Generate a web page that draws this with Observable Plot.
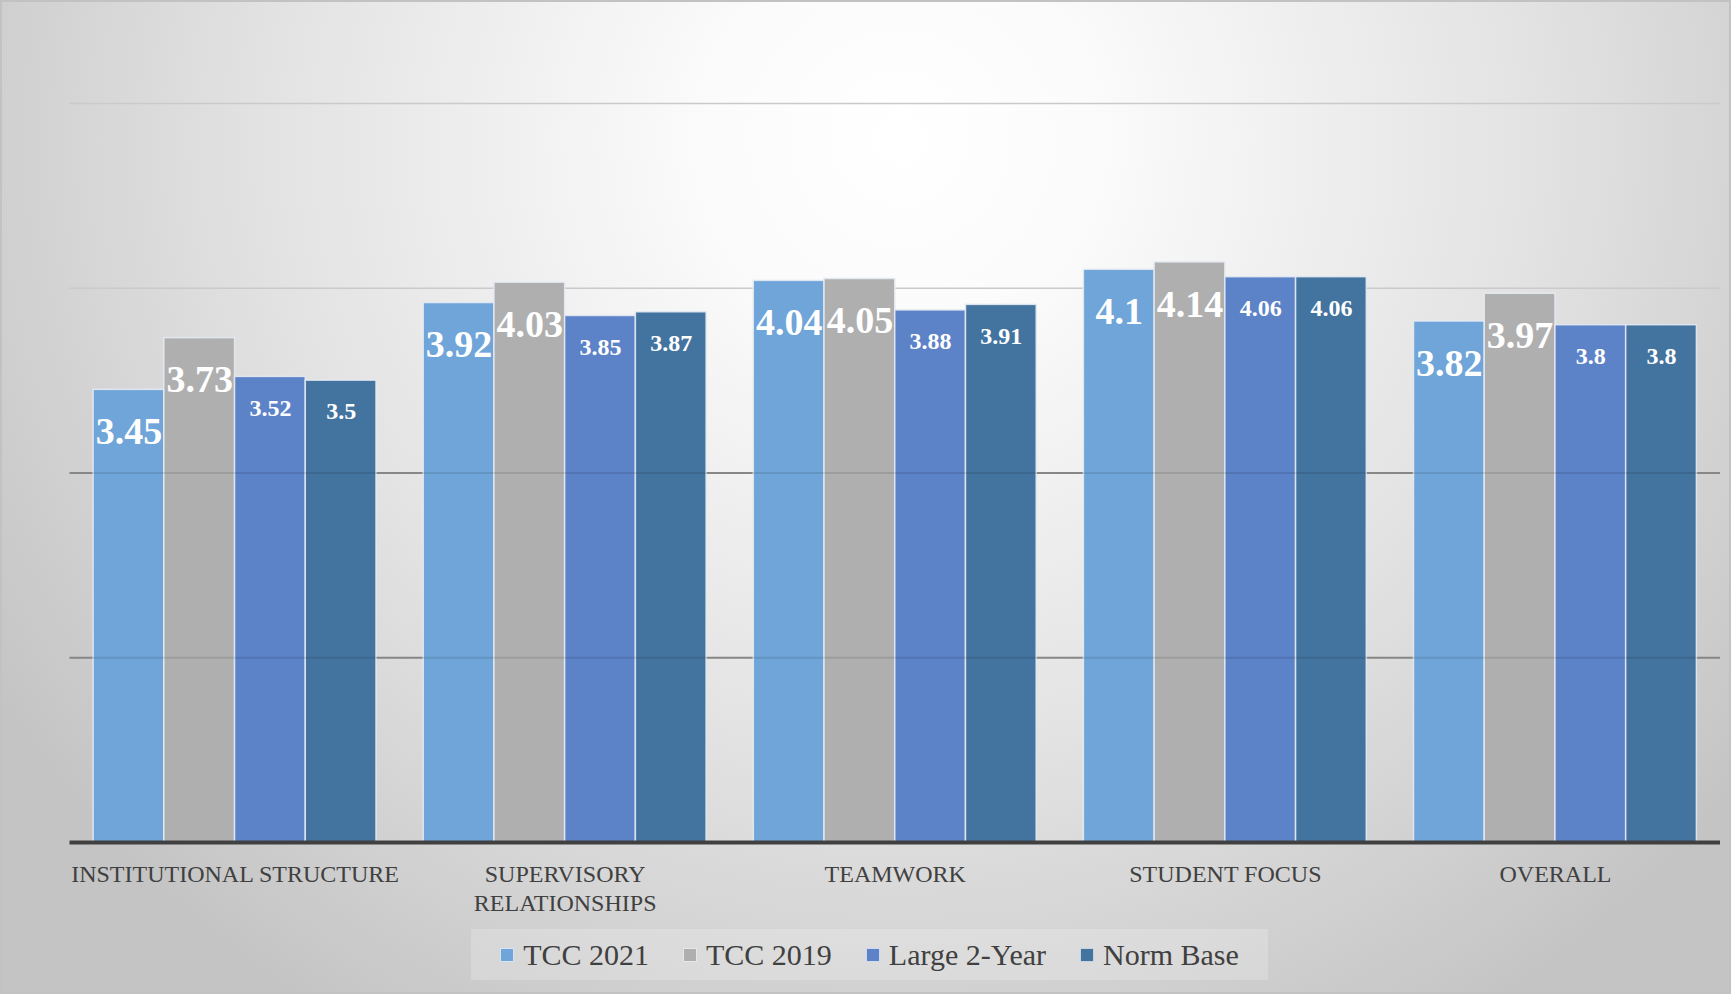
<!DOCTYPE html>
<html>
<head>
<meta charset="utf-8">
<script src="https://cdn.jsdelivr.net/npm/d3@7"></script>
<script src="https://cdn.jsdelivr.net/npm/@observablehq/plot@0.6"></script>
<style>
html, body { margin: 0; padding: 0; background: #fff; }
#chart {
  position: relative;
  width: 1731px; height: 994px;
  overflow: hidden;
  font-family: "Liberation Serif", "DejaVu Serif", serif;
  background: radial-gradient(ellipse 62% 105% at 52% 14%, #ffffff 0%, #fbfbfb 18%, #e2e2e2 60%, #c4c4c4 100%);
  box-shadow: inset 0 0 0 2px #c2c2c2;
}
#chart svg { position: absolute; left: 0; top: 0; }
#legend {
  position: absolute; left: 471px; top: 929px; width: 797px; height: 51px;
  background: rgba(255,255,255,0.2);
  display: flex; align-items: center; justify-content: center;
  font-size: 30px; color: #404040;
}
#legend .item { display: flex; align-items: center; margin: 0 17px; }
#legend .sw { width: 14px; height: 14px; margin-right: 9px; box-sizing: border-box; border: 1px solid rgba(255,255,255,0.7); }
</style>
</head>
<body>
<div id="chart"></div>
<script>
const categories = ["INSTITUTIONAL STRUCTURE", "SUPERVISORY RELATIONSHIPS", "TEAMWORK", "STUDENT FOCUS", "OVERALL"];
const categoryLabels = ["INSTITUTIONAL STRUCTURE", "SUPERVISORY\nRELATIONSHIPS", "TEAMWORK", "STUDENT FOCUS", "OVERALL"];
const series = ["TCC 2021", "TCC 2019", "Large 2-Year", "Norm Base"];
const tcc2021 = [3.45, 3.92, 4.04, 4.1, 3.82];
const tcc2019 = [3.73, 4.03, 4.05, 4.14, 3.97];
const large2Year = [3.52, 3.85, 3.88, 4.06, 3.8];
const normBase = [3.5, 3.87, 3.91, 4.06, 3.8];
const colors = ["#6fa5d8", "#afafaf", "#5c82c8", "#43739f"];
const darkGrid = [2, 3];
const lightGrid = [4, 5];
const yDomain = [1, 5];

// grouped layout (Excel-like gap width): group occupies this share of each category slot
const groupShare = 0.857;
const barW = groupShare / series.length;

const seriesValues = [tcc2021, tcc2019, large2Year, normBase];
const data = [];
series.forEach((s, si) => {
  categories.forEach((c, ci) => {
    const center = ci + (si - (series.length - 1) / 2) * barW;
    data.push({category: c, ci, series: s, value: seriesValues[si][ci], big: si < 2,
               x1: center - barW / 2, x2: center + barW / 2, xc: center});
  });
});

const plot = Plot.plot({
  width: 1731,
  height: 925,
  marginLeft: 69.5,
  marginRight: 11,
  marginTop: 103,
  marginBottom: 83,
  style: {background: "transparent", fontFamily: "'Liberation Serif', serif", overflow: "visible"},
  x: {type: "linear", domain: [-0.5, categories.length - 0.5], axis: null},
  y: {domain: yDomain, axis: null},
  color: {domain: series, range: colors},
  marks: [
    Plot.ruleY(lightGrid, {stroke: "#cacaca", strokeWidth: 1.5}),
    Plot.ruleY(darkGrid, {stroke: "#979797", strokeWidth: 2}),
    Plot.rectY(data, {x1: "x1", x2: "x2", y1: yDomain[0], y2: "value", fill: "series", stroke: "#e4eaf2", strokeWidth: 1.5, strokeOpacity: 0.9}),
    Plot.ruleY(darkGrid, {stroke: "#000", strokeOpacity: 0.1, strokeWidth: 2}),
    Plot.ruleY([yDomain[0]], {stroke: "#404040", strokeWidth: 4}),
    Plot.text(data.filter(d => d.big), {x: "xc", y: "value", text: d => String(d.value), fill: "white", fontSize: 38, fontWeight: "bold", dy: 42, lineAnchor: "middle"}),
    Plot.text(data.filter(d => !d.big), {x: "xc", y: "value", text: d => String(d.value), fill: "white", fontSize: 24, fontWeight: "bold", dy: 31, lineAnchor: "middle"}),
    Plot.axisX(d3.range(categories.length), {anchor: "bottom", tickSize: 0, tickPadding: 19, fontSize: 24, lineHeight: 1.2, fill: "#404040", tickFormat: i => categoryLabels[i], label: null})
  ]
});
const chart = document.getElementById("chart");
chart.appendChild(plot);

const legend = document.createElement("div");
legend.id = "legend";
series.forEach((s, i) => {
  const item = document.createElement("div");
  item.className = "item";
  const sw = document.createElement("span");
  sw.className = "sw";
  sw.style.background = colors[i];
  const t = document.createElement("span");
  t.textContent = s;
  item.appendChild(sw);
  item.appendChild(t);
  legend.appendChild(item);
});
chart.appendChild(legend);
</script>
</body>
</html>
